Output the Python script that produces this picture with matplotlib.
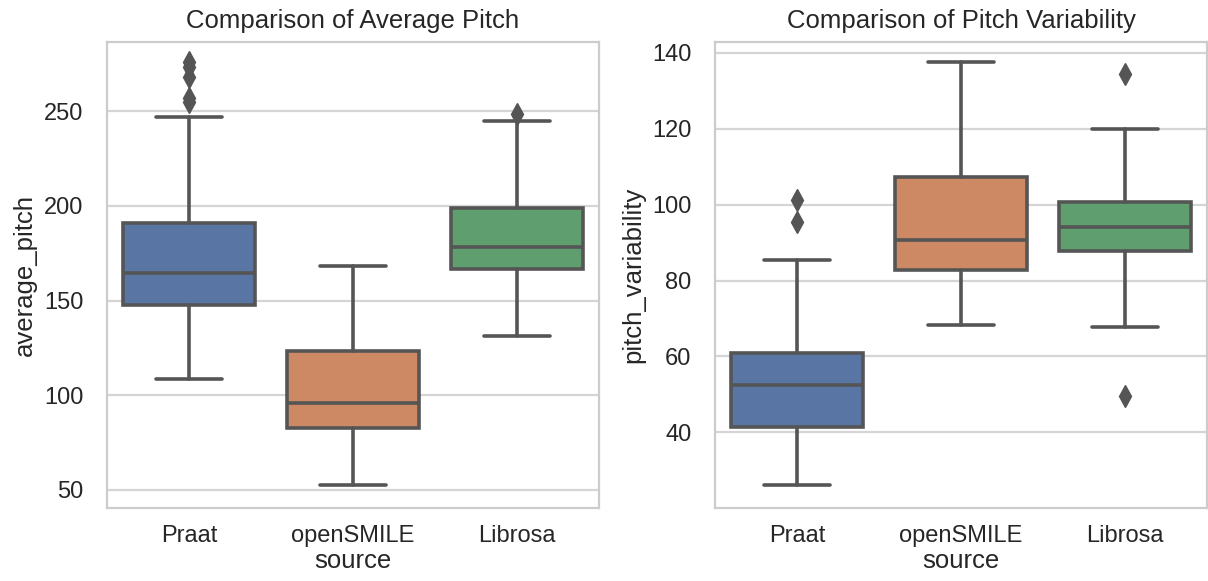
import matplotlib
matplotlib.use("Agg")
import matplotlib.pyplot as plt
import seaborn as sns

sns.set_theme(style="whitegrid")
plt.rcParams['font.family'] = ['Liberation Sans', 'DejaVu Sans']

# data (box stats per source)
sources = ['Praat', 'openSMILE', 'Librosa']
colors = ['#5875A4', '#CC8963', '#5F9E6E']

# average pitch
avg_q1 = [147.5, 82.5, 166.8]
avg_med = [164.7, 96.0, 178.2]
avg_q3 = [190.9, 123.3, 199.0]
avg_lo = [108.5, 52.6, 131.5]
avg_hi = [246.9, 168.0, 244.8]
avg_fliers = [[276, 273, 268, 257, 255], [], [248.5]]

# pitch variability
var_q1 = [41.5, 82.8, 87.8]
var_med = [52.5, 90.7, 94.0]
var_q3 = [61.0, 107.3, 100.8]
var_lo = [26.1, 68.3, 67.8]
var_hi = [85.5, 137.5, 119.8]
var_fliers = [[101.2, 95.5], [], [134.3, 49.6]]


def make_stats(q1, med, q3, lo, hi, fliers):
    stats = []
    for i in range(len(sources)):
        stats.append({'label': sources[i], 'q1': q1[i], 'med': med[i], 'q3': q3[i],
                      'whislo': lo[i], 'whishi': hi[i], 'fliers': fliers[i]})
    return stats


def draw_box(ax, stats, title, ylabel, ylim):
    gray = '#555555'
    lw = 2.6
    bp = ax.bxp(stats, positions=range(len(sources)), widths=0.8, patch_artist=True,
                boxprops=dict(edgecolor=gray, linewidth=lw),
                medianprops=dict(color=gray, linewidth=lw),
                whiskerprops=dict(color=gray, linewidth=lw),
                capprops=dict(color=gray, linewidth=lw),
                flierprops=dict(marker='d', markerfacecolor=gray, markeredgecolor=gray,
                                markersize=11, linestyle='none'),
                capwidths=0.4)
    for patch, c in zip(bp['boxes'], colors):
        patch.set_facecolor(c)
    ax.set_xlim(-0.5, 2.5)
    ax.set_ylim(*ylim)
    ax.set_xticks(range(len(sources)))
    ax.set_xticklabels(sources)
    ax.grid(axis='x', visible=False)
    ax.grid(axis='y', color='#d5d5d5', linewidth=1.6)
    for s in ax.spines.values():
        s.set_color('#cccccc')
        s.set_linewidth(1.6)
    ax.tick_params(axis='y', length=0, pad=17, labelsize=17, labelcolor='#262626')
    ax.tick_params(axis='x', length=0, pad=12, labelsize=17, labelcolor='#262626')
    ax.set_title(title, fontsize=18.5, color='#262626', pad=10)
    ax.set_xlabel('source', fontsize=18.5, color='#262626', labelpad=2)
    ax.set_ylabel(ylabel, fontsize=18.5, color='#262626', labelpad=5)


fig = plt.figure(figsize=(12.08, 5.81), dpi=100)
ax1 = fig.add_subplot(121)
ax2 = fig.add_subplot(122)
fig.subplots_adjust(left=107/1208, right=1207/1208, bottom=1-508/581,
                    top=1-41.7/581, wspace=0.236)

draw_box(ax1, make_stats(avg_q1, avg_med, avg_q3, avg_lo, avg_hi, avg_fliers),
         'Comparison of Average Pitch', 'average_pitch', (40.5, 286.6))
draw_box(ax2, make_stats(var_q1, var_med, var_q3, var_lo, var_hi, var_fliers),
         'Comparison of Pitch Variability', 'pitch_variability', (20.1, 142.9))

fig.savefig('out.png', dpi=100)
